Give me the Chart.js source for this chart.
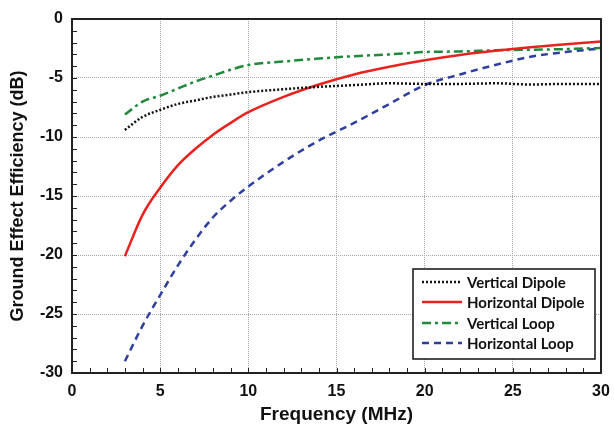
<!DOCTYPE html>
<html>
<head>
<meta charset="utf-8">
<script src="https://cdn.jsdelivr.net/npm/chart.js@4"></script>
<style>
  html, body { margin: 0; padding: 0; background: #fff; }
  #wrap { width: 614px; height: 428px; }
</style>
</head>
<body>
<div id="wrap"><canvas id="efficiencyChart" width="614" height="428"></canvas></div>
<script>
const freq = [3, 4, 5, 6, 7, 8, 9, 10, 12, 14, 16, 18, 20, 22, 24, 26, 28, 30];
const verticalDipole = [-9.4, -8.3, -7.7, -7.2, -6.9, -6.6, -6.4, -6.2, -5.95, -5.75, -5.6, -5.45, -5.5, -5.5, -5.45, -5.55, -5.5, -5.5];
const horizontalDipole = [-20.1, -16.6, -14.3, -12.4, -11.0, -9.8, -8.8, -7.9, -6.6, -5.55, -4.7, -4.05, -3.5, -3.05, -2.7, -2.4, -2.15, -1.9];
const verticalLoop = [-8.1, -7.0, -6.5, -5.9, -5.3, -4.8, -4.3, -3.9, -3.6, -3.35, -3.15, -3.0, -2.8, -2.75, -2.65, -2.6, -2.55, -2.45];
const horizontalLoop = [-29.0, -26.0, -23.4, -20.9, -18.7, -16.8, -15.4, -14.2, -12.1, -10.3, -8.8, -7.2, -5.6, -4.7, -3.9, -3.2, -2.8, -2.5];
const seriesNames = ["Vertical Dipole", "Horizontal Dipole", "Vertical Loop", "Horizontal Loop"];

const pts = arr => arr.map((v, i) => ({ x: freq[i], y: v }));

// frame, inward minor ticks and the boxed legend
const framePlugin = {
    id: "frame",
    afterDraw(chart) {
        const { ctx, chartArea: a, scales } = chart;
        ctx.save();
        ctx.strokeStyle = "#222";
        ctx.lineWidth = 1;
        for (let v = 1; v < 30; v++) {
            const x = Math.round(scales.x.getPixelForValue(v)) + 0.5;
            ctx.beginPath(); ctx.moveTo(x, a.bottom); ctx.lineTo(x, a.bottom - 5); ctx.stroke();
            const y = Math.round(scales.y.getPixelForValue(-v)) + 0.5;
            ctx.beginPath(); ctx.moveTo(a.left, y); ctx.lineTo(a.left + 5, y); ctx.stroke();
        }
        ctx.lineWidth = 2;
        ctx.strokeRect(a.left, a.top, a.right - a.left, a.bottom - a.top);

        // legend
        const lx = 413, ly = 269, lw = 182, lh = 90;
        ctx.fillStyle = "#fff";
        ctx.fillRect(lx, ly, lw, lh);
        ctx.lineWidth = 1.5;
        ctx.strokeStyle = "#111";
        ctx.strokeRect(lx, ly, lw, lh);
        const rows = [282, 302, 323, 343];
        chart.data.datasets.forEach((ds, i) => {
            ctx.beginPath();
            ctx.setLineDash(ds.borderDash || []);
            ctx.strokeStyle = ds.borderColor;
            ctx.lineWidth = ds.borderWidth;
            ctx.moveTo(422, rows[i]);
            ctx.lineTo(462, rows[i]);
            ctx.stroke();
            ctx.setLineDash([]);
            ctx.fillStyle = "#111";
            ctx.font = "bold 15px Lato";
            ctx.textBaseline = "middle";
            ctx.fillText(ds.label, 467, rows[i] + 1);
        });
        ctx.restore();
    }
};

const ctx = document.getElementById("efficiencyChart").getContext("2d");
new Chart(ctx, {
    type: "line",
    data: {
        datasets: [
            { label: seriesNames[0], data: pts(verticalDipole), borderColor: "#111", borderWidth: 2.5, borderDash: [2, 2] },
            { label: seriesNames[1], data: pts(horizontalDipole), borderColor: "#e8231f", borderWidth: 2.5 },
            { label: seriesNames[2], data: pts(verticalLoop), borderColor: "#1f8a3c", borderWidth: 2.5, borderDash: [9, 4, 3, 4] },
            { label: seriesNames[3], data: pts(horizontalLoop), borderColor: "#2e3fa0", borderWidth: 2.5, borderDash: [7, 5] }
        ]
    },
    options: {
        responsive: false,
        animation: false,
        layout: { padding: { top: 19, right: 13, left: 0, bottom: 0 } },
        elements: { point: { radius: 0 }, line: { cubicInterpolationMode: "monotone", fill: false } },
        plugins: { legend: { display: false }, tooltip: { enabled: false } },
        scales: {
            x: {
                type: "linear",
                min: 0, max: 30,
                afterFit: s => { s.height = 55; s.paddingLeft = 0; s.paddingRight = 0; },
                ticks: { stepSize: 5, color: "#111", font: { family: "Liberation Sans", size: 16, weight: "bold" }, padding: 9 },
                grid: { color: "#a8a8a8", lineWidth: 1, drawTicks: false },
                border: { display: false, dash: [1, 1] },
                title: { display: true, text: "Frequency (MHz)", color: "#111", font: { family: "Liberation Sans", size: 19, weight: "bold" }, padding: { top: 0, bottom: 2 } }
            },
            y: {
                min: -30, max: 0,
                afterFit: s => { s.width = 72; s.paddingTop = 0; s.paddingBottom = 0; },
                ticks: { stepSize: 5, color: "#111", font: { family: "Liberation Sans", size: 16, weight: "bold" }, padding: 9 },
                grid: { color: "#a8a8a8", lineWidth: 1, drawTicks: false },
                border: { display: false, dash: [1, 1] },
                title: { display: true, text: "Ground Effect Efficiency (dB)", color: "#111", font: { family: "Liberation Sans", size: 18, weight: "bold" }, padding: { top: 7, bottom: 0 } }
            }
        }
    },
    plugins: [framePlugin]
});
</script>
</body>
</html>
